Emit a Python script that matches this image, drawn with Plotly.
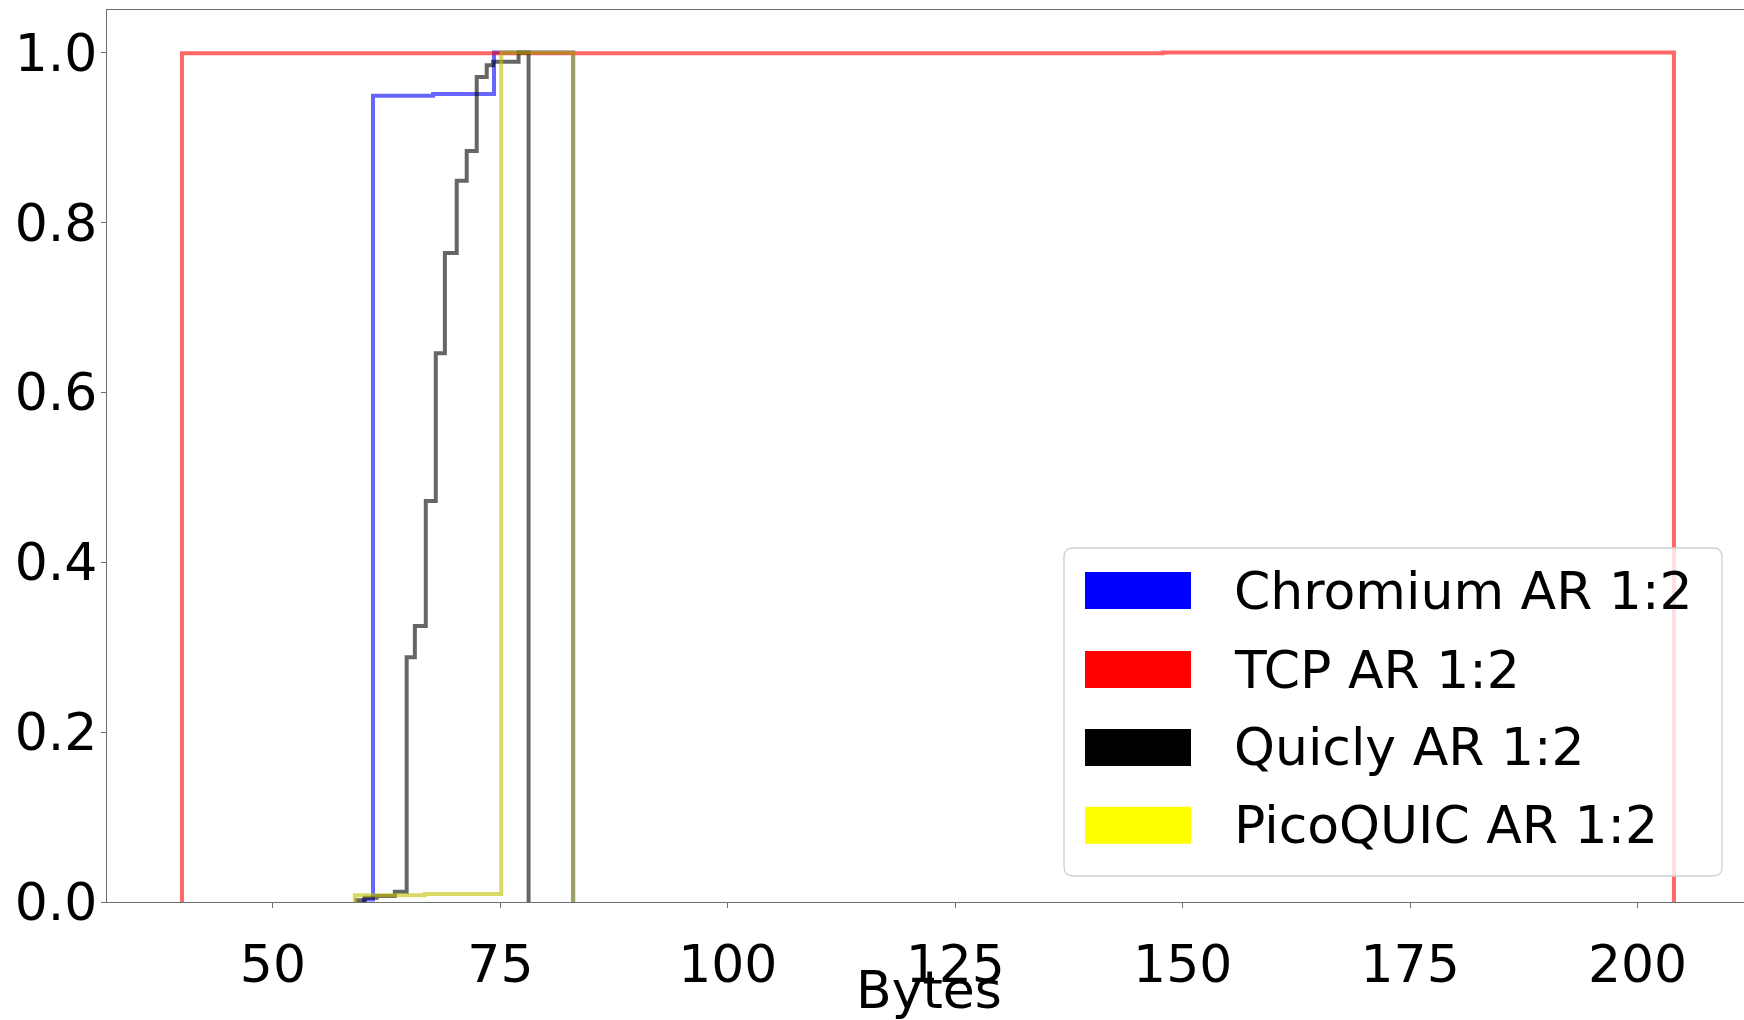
import plotly.graph_objects as go

# ---- data (bin edges and cumulative fractions) ----
chromium_edges = [60.0, 61.0, 67.6, 74.3, 83.0]
chromium_cdf = [0.003, 0.949, 0.951, 1.0]

tcp_edges = [40.0, 147.8, 204.0]
tcp_cdf = [0.999, 1.0]

quicly_edges = [59.2, 60.1, 61.4, 63.4, 64.7, 65.6, 66.8, 67.9, 68.9, 70.2,
                71.3, 72.4, 73.5, 74.2, 77.0, 78.1]
quicly_cdf = [0.002, 0.005, 0.007, 0.012, 0.288, 0.325, 0.472, 0.646, 0.764,
              0.849, 0.884, 0.971, 0.985, 0.989, 1.0]

picoquic_edges = [59.0, 66.7, 75.1, 83.0]
picoquic_cdf = [0.008, 0.0095, 1.0]

series_names = ["Chromium AR 1:2", "TCP AR 1:2", "Quicly AR 1:2", "PicoQUIC AR 1:2"]
line_colors = ["rgba(0,0,255,0.6)", "rgba(255,0,0,0.6)", "rgba(0,0,0,0.6)", "rgba(191,191,0,0.6)"]
patch_colors = ["#0000ff", "#ff0000", "#000000", "#ffff00"]

x_ticks = [50, 75, 100, 125, 150, 175, 200]
y_ticks = [0.0, 0.2, 0.4, 0.6, 0.8, 1.0]
x_title = "Bytes"

FONT = "DejaVu Sans"
W, H = 1744, 1020
L, R, T, B = 107, 0, 10, 118


def step_outline(edges, cdf):
    xs, ys = [edges[0]], [0.0]
    for i, c in enumerate(cdf):
        xs += [edges[i], edges[i + 1]]
        ys += [c, c]
    xs.append(edges[-1])
    ys.append(0.0)
    return xs, ys


fig = go.Figure()
for (edges, cdf), name, col in zip(
        [(chromium_edges, chromium_cdf), (tcp_edges, tcp_cdf),
         (quicly_edges, quicly_cdf), (picoquic_edges, picoquic_cdf)],
        series_names, line_colors):
    xs, ys = step_outline(edges, cdf)
    fig.add_trace(go.Scatter(x=xs, y=ys, mode="lines", name=name,
                             line=dict(color=col, width=4), showlegend=False,
                             hoverinfo="skip"))

axis_col = "#707070"
fig.update_xaxes(range=[31.76, 211.7], tickvals=x_ticks, ticks="outside", ticklen=5,
                 tickcolor=axis_col, showline=True, linecolor=axis_col, linewidth=1.3,
                 mirror=True, showgrid=False, zeroline=False, ticklabelstandoff=11,
                 tickfont=dict(family=FONT, size=52, color="black"))
fig.update_yaxes(range=[0, 1.05], tickvals=y_ticks, tickformat=".1f", ticks="outside",
                 ticklen=5, tickcolor=axis_col, showline=True, linecolor=axis_col,
                 linewidth=1.3, mirror=True, showgrid=False, zeroline=False,
                 ticklabelstandoff=-7,
                 tickfont=dict(family=FONT, size=52, color="black"))

# ---- legend drawn manually (matplotlib-style patch legend) ----
pw, ph = W - L - R, H - T - B


def px(xp):
    return (xp - L) / pw


def py(yp):
    return (H - B - yp) / ph


bx0, bx1, by0, by1 = 1064, 1722, 548, 876
r = 9
rx, ry = r / pw, r / ph
X0, X1, Y0, Y1 = px(bx0), px(bx1), py(by1), py(by0)
path = (f"M {X0+rx},{Y0} L {X1-rx},{Y0} Q {X1},{Y0} {X1},{Y0+ry} "
        f"L {X1},{Y1-ry} Q {X1},{Y1} {X1-rx},{Y1} L {X0+rx},{Y1} "
        f"Q {X0},{Y1} {X0},{Y1-ry} L {X0},{Y0+ry} Q {X0},{Y0} {X0+rx},{Y0} Z")
shapes = [dict(type="path", xref="paper", yref="paper", path=path,
               fillcolor="rgba(255,255,255,0.8)", line=dict(color="#d0d0d0", width=1.3),
               layer="above")]
annotations = []
row_centers = [590.6, 669.5, 747.4, 825.3]
for name, col, cy in zip(series_names, patch_colors, row_centers):
    shapes.append(dict(type="rect", xref="paper", yref="paper",
                       x0=px(1085), x1=px(1191), y0=py(cy + 18.5), y1=py(cy - 18.5),
                       fillcolor=col, line=dict(width=0), layer="above"))
    annotations.append(dict(xref="paper", yref="paper", x=px(1232), y=py(cy),
                            xanchor="left", yanchor="middle", text=name, showarrow=False,
                            font=dict(family=FONT, size=52, color="black")))

# x-axis title as an annotation so it can sit just below the tick labels
annotations.append(dict(xref="paper", yref="paper", x=px(929), y=py(990),
                        xanchor="center", yanchor="middle", text=x_title, showarrow=False,
                        font=dict(family=FONT, size=52, color="black")))

fig.update_layout(width=W, height=H, margin=dict(l=L, r=R, t=T, b=B),
                  paper_bgcolor="white", plot_bgcolor="white",
                  shapes=shapes, annotations=annotations, showlegend=False)

fig.write_html("out.html")
